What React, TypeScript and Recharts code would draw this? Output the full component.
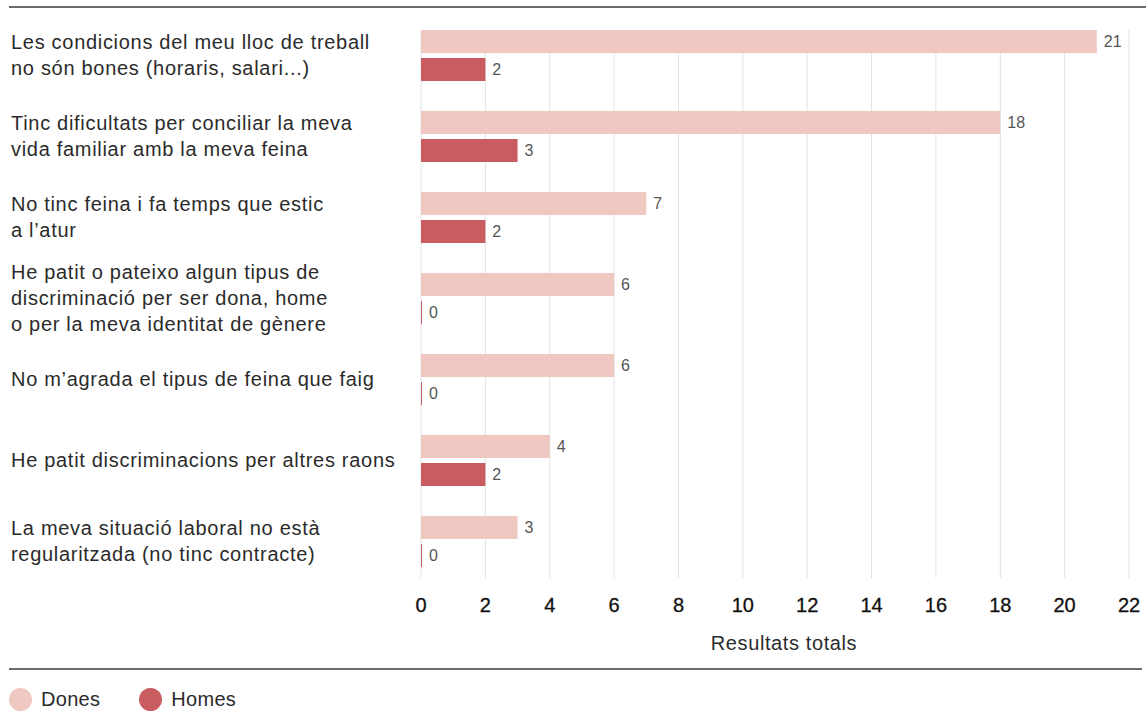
import React from "react";
import {
  BarChart,
  Bar,
  XAxis,
  YAxis,
  CartesianGrid,
  LabelList,
} from "recharts";

const categories = [
  "Les condicions del meu lloc de treball no són bones (horaris, salari...)",
  "Tinc dificultats per conciliar la meva vida familiar amb la meva feina",
  "No tinc feina i fa temps que estic a l’atur",
  "He patit o pateixo algun tipus de discriminació per ser dona, home o per la meva identitat de gènere",
  "No m’agrada el tipus de feina que faig",
  "He patit discriminacions per altres raons",
  "La meva situació laboral no està regularitzada (no tinc contracte)",
];

// how each category label wraps in the picture
const labelLines = [
  ["Les condicions del meu lloc de treball", "no són bones (horaris, salari...)"],
  ["Tinc dificultats per conciliar la meva", "vida familiar amb la meva feina"],
  ["No tinc feina i fa temps que estic", "a l’atur"],
  [
    "He patit o pateixo algun tipus de",
    "discriminació per ser dona, home",
    "o per la meva identitat de gènere",
  ],
  ["No m’agrada el tipus de feina que faig"],
  ["He patit discriminacions per altres raons"],
  ["La meva situació laboral no està", "regularitzada (no tinc contracte)"],
];

const dones = [21, 18, 7, 6, 6, 4, 3];
const homes = [2, 3, 2, 0, 0, 2, 0];

const xTicks = [0, 2, 4, 6, 8, 10, 12, 14, 16, 18, 20, 22];

const DONES_COLOR = "#eec8c1";
const HOMES_COLOR = "#c85c60";
const FONT = '"Liberation Sans", Arial, Helvetica, sans-serif';

const data = categories.map((name, i) => ({
  name,
  dones: dones[i],
  homes: homes[i],
}));

const CategoryTick = (props: any) => {
  const { y, payload } = props;
  const lines = labelLines[categories.indexOf(payload.value)] || [payload.value];
  const lh = 26;
  const first = y - ((lines.length - 1) * lh) / 2 + 6;
  return (
    <text
      x={11}
      y={first}
      fill="#2b2b2b"
      fontSize={20}
      fontFamily={FONT}
      letterSpacing={0.7}
      textAnchor="start"
    >
      {lines.map((l, i) => (
        <tspan key={i} x={11} y={first + i * lh}>
          {l}
        </tspan>
      ))}
    </text>
  );
};

const rule = (top: number, left: number, width: number) => (
  <div
    style={{
      position: "absolute",
      top,
      left,
      width,
      height: 2,
      background: "#6b6b6b",
    }}
  />
);

export default function App() {
  return (
    <div
      style={{
        position: "absolute",
        left: 0,
        top: 0,
        width: 1146,
        height: 725,
        background: "#fff",
        fontFamily: FONT,
      }}
    >
      {rule(6, 9, 1137)}
      <BarChart
        width={1146}
        height={725}
        data={data}
        layout="vertical"
        margin={{ top: 15, right: 17, bottom: 113, left: 0 }}
        barGap={5}
      >
        <CartesianGrid
          horizontal={false}
          stroke="#e2e2e2"
          y={30}
          height={548}
        />
        <XAxis
          type="number"
          domain={[0, 22]}
          ticks={xTicks}
          interval={0}
          axisLine={false}
          tickLine={false}
          tickSize={0}
          tickMargin={16}
          tick={{ fontSize: 20, fill: "#111", fontFamily: FONT, stroke: "#111", strokeWidth: 0.3 }}
          label={{
            value: "Resultats totals",
            position: "bottom",
            offset: 24,
            dx: 9,
            fontSize: 20,
            fill: "#2b2b2b",
            fontFamily: FONT,
            letterSpacing: 0.6,
          }}
        />
        <YAxis
          type="category"
          dataKey="name"
          width={421}
          axisLine={false}
          tickLine={false}
          interval={0}
          tick={<CategoryTick />}
        />
        <Bar
          dataKey="dones"
          name="Dones"
          fill={DONES_COLOR}
          barSize={23}
          isAnimationActive={false}
        >
          <LabelList
            dataKey="dones"
            position="right"
            offset={7}
            fill="#555"
            fontSize={16}
            fontFamily={FONT}
          />
        </Bar>
        <Bar
          dataKey="homes"
          name="Homes"
          fill={HOMES_COLOR}
          barSize={23}
          minPointSize={1}
          isAnimationActive={false}
        >
          <LabelList
            dataKey="homes"
            position="right"
            offset={7}
            fill="#555"
            fontSize={16}
            fontFamily={FONT}
          />
        </Bar>
      </BarChart>
      {rule(668, 9, 1133)}
      {/* legend */}
      <div
        style={{
          position: "absolute",
          top: 688,
          left: 9,
          display: "flex",
          alignItems: "center",
          fontSize: 20,
          color: "#2b2b2b",
          letterSpacing: 0.3,
          lineHeight: "23px",
        }}
      >
        {[
          { label: "Dones", color: DONES_COLOR },
          { label: "Homes", color: HOMES_COLOR },
        ].map((item) => (
          <div
            key={item.label}
            style={{ display: "flex", alignItems: "center", marginRight: 39 }}
          >
            <span
              style={{
                display: "inline-block",
                width: 23,
                height: 23,
                borderRadius: "50%",
                background: item.color,
                marginRight: 9,
              }}
            />
            <span>{item.label}</span>
          </div>
        ))}
      </div>
    </div>
  );
}
